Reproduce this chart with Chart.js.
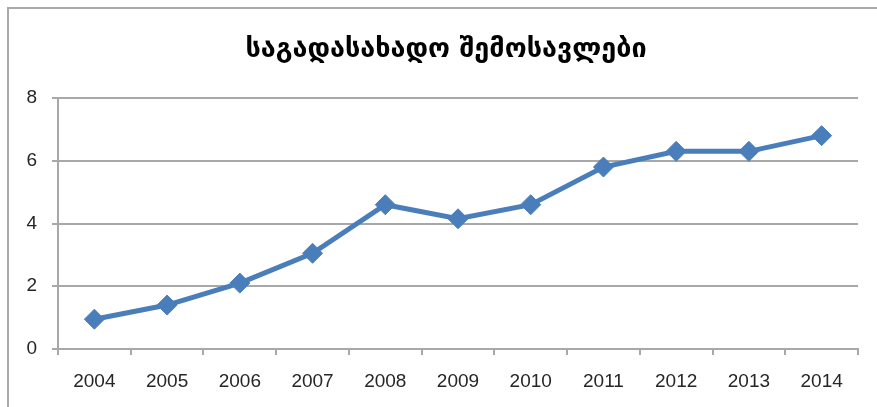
<!DOCTYPE html>
<html>
<head>
<meta charset="utf-8">
<script src="https://cdn.jsdelivr.net/npm/chart.js@4"></script>
<style>
  html, body { margin:0; padding:0; background:#fff; }
  #wrap { position:relative; width:877px; height:407px; overflow:hidden; }
  #frame { position:absolute; left:7px; top:7px; right:-2px; bottom:-2px; border-left:2px solid #a9a9a9; border-top:2px solid #a9a9a9; }
  #title { position:absolute; left:0; width:892px; top:32px; line-height:32px; text-align:center;
           font:bold 27px "DejaVu Sans", sans-serif; color:#000; white-space:nowrap; }
  canvas { position:absolute; left:0; top:0; }
</style>
</head>
<body>
<div id="wrap">
  <div id="frame"></div>
  <canvas id="c" width="877" height="407"></canvas>
  <div id="title"></div>
</div>
<script>
// ── data ──────────────────────────────────────────────
const YEARS  = ["2004","2005","2006","2007","2008","2009","2010","2011","2012","2013","2014"];
const REVENUE = [0.95, 1.4, 2.1, 3.05, 4.6, 4.15, 4.6, 5.8, 6.3, 6.3, 6.8];
const TITLE  = "საგადასახადო შემოსავლები";

const GRID = "#a8a8a8";
const TXT  = "#262626";

document.getElementById("title").textContent = TITLE;

new Chart(document.getElementById("c"), {
  type: "line",
  data: {
    labels: YEARS,
    datasets: [{
      data: REVENUE,
      borderColor: "#4a7ebb", backgroundColor: "#4a7ebb",
      borderWidth: 5, tension: 0,
      pointStyle: "rectRot", pointRadius: 10, pointHoverRadius: 10,
      pointBorderWidth: 1,
    }],
  },
  options: {
    responsive: false, animation: false,
    layout: { padding: { left: 0, right: 19, top: 98, bottom: 0 } },
    plugins: { legend: { display: false }, tooltip: { enabled: false }, title: { display: false } },
    scales: {
      x: {
        offset: true,
        grid: { offset: true, drawOnChartArea: false, drawTicks: true, tickLength: 6, color: GRID, lineWidth: 2 },
        border: { display: true, color: GRID, width: 2 },
        ticks: { color: TXT, padding: 15, font: { family: "Liberation Sans", size: 19 } },
        afterFit: s => { s.height = 58; },
      },
      y: {
        min: 0, max: 8,
        grid: { drawTicks: true, tickLength: 6, color: GRID, lineWidth: 2 },
        border: { display: true, color: GRID, width: 2 },
        ticks: { stepSize: 2, color: TXT, padding: 15, font: { family: "Liberation Sans", size: 19 } },
        afterFit: s => { s.width = 58; },
      },
    },
  },
});
</script>
</body>
</html>
